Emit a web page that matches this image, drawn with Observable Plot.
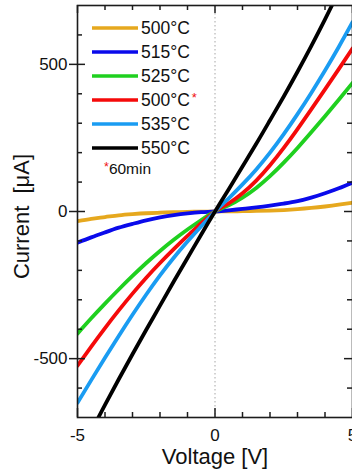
<!DOCTYPE html>
<html><head><meta charset="utf-8">
<script src="https://cdn.jsdelivr.net/npm/d3@7"></script>
<script src="https://cdn.jsdelivr.net/npm/@observablehq/plot@0.6"></script>
<style>html,body{margin:0;padding:0;background:#fff;}</style>
</head><body><div id="chart"></div>
<script>
// ---- data ----
const voltage = [-5,-4.5,-4,-3.5,-3,-2.5,-2,-1.5,-1,-0.5,0,0.5,1,1.5,2,2.5,3,3.5,4,4.5,5];
const i500   = [-33,-25,-19,-13,-9,-6,-4,-2,-1,-0.5,0,0.5,1,2,3,5,8,12,17,23,30];
const i515   = [-106,-88,-71,-55,-42,-30,-20,-12,-6,-2,0,4,9,14,20,27,35,47,62,79,98];
const i525   = [-415,-363,-313,-265,-219,-175,-134,-96,-61,-29,0,21,47,80,120,166,216,269,324,380,437];
const i500b  = [-524,-459,-396,-336,-279,-225,-175,-128,-83,-40,0,28,62,105,157,216,280,347,415,484,554];
const i535   = [-650,-573,-497,-423,-351,-282,-217,-157,-102,-50,0,45,92,143,200,263,331,403,479,559,643];
const i550   = [-845,-748,-657,-570,-485,-402,-320,-238,-158,-78,0,76,153,230,310,391,475,562,653,748,848];
const currents = [i500, i515, i525, i500b, i535, i550];
const legendLabels = ["500°C","515°C","525°C","500°C","535°C","550°C"];
const legendStar   = [false,false,false,true,false,false];
const noteText = "60min";
const colors = ["#E6A81E","#0A0AEB","#1FD01F","#F50A0A","#1A9CF2","#000000"];
const xMajorTicks = [-5,0,5];
const xMinorTicks = [-4,-3,-2,-1,1,2,3,4];
const yMajorTicks = [-500,0,500];
const yMinorTicks = [-600,-400,-300,-200,-100,100,200,300,400,600];
const xLabel = "Voltage [V]";
const yLabel = "Current  [μA]";

// ---- layout ----
const FONT = "'Liberation Sans', Arial, Helvetica, sans-serif";
const W = 352, H = 469, mL = 77, mR = 0, mT = 5, mB = 52;
const fw = W - mL - mR, fh = H - mT - mB;
const axisColor = "#1c1c1c";
const tw = 1.5;

const rows = currents.flatMap((arr, k) => voltage.map((v, j) => ({k, V: v, I: arr[j]})));

const plot = Plot.plot({
  width: W, height: H,
  marginLeft: mL, marginRight: mR, marginTop: mT, marginBottom: mB,
  x: {domain: [-5, 5]},
  y: {domain: [-700, 700]},
  color: {type: "ordinal", domain: d3.range(colors.length), range: colors},
  style: {fontFamily: FONT, background: "#fff", color: "#111"},
  marks: [
    Plot.ruleX([0], {stroke: "#a6a6a6", strokeWidth: 1, strokeDasharray: "1.5,2.5"}),
    Plot.line(rows, {x: "V", y: "I", z: "k", stroke: "k", strokeWidth: 3.8, curve: "natural", clip: true}),
    Plot.frame({stroke: axisColor, strokeWidth: 1.6}),
    // left ticks
    Plot.ruleY(yMinorTicks, {stroke: axisColor, strokeWidth: tw, insetRight: fw - 5}),
    Plot.ruleY(yMajorTicks, {stroke: axisColor, strokeWidth: tw, insetLeft: -8, insetRight: fw - 8}),
    // right ticks
    Plot.ruleY(yMinorTicks, {stroke: axisColor, strokeWidth: tw, insetLeft: fw - 5}),
    Plot.ruleY(yMajorTicks, {stroke: axisColor, strokeWidth: tw, insetLeft: fw - 8}),
    // bottom ticks
    Plot.ruleX(xMinorTicks, {stroke: axisColor, strokeWidth: tw, insetTop: fh - 5}),
    Plot.ruleX(xMajorTicks, {stroke: axisColor, strokeWidth: tw, insetTop: fh - 9}),
    // top ticks
    Plot.ruleX(xMinorTicks, {stroke: axisColor, strokeWidth: tw, insetBottom: fh - 5}),
    Plot.ruleX(xMajorTicks, {stroke: axisColor, strokeWidth: tw, insetBottom: fh - 8}),
    Plot.axisX({ticks: xMajorTicks, tickSize: 0, tickPadding: 11, tickFormat: d => String(d), fontSize: 17, label: null}),
    Plot.axisY({ticks: yMajorTicks, tickSize: 0, tickPadding: 10, tickFormat: d => String(d), fontSize: 17, label: null}),
    Plot.text([xLabel], {frameAnchor: "bottom", textAnchor: "middle", lineAnchor: "middle", dy: 39, fontSize: 22, fill: "#111"}),
    Plot.text([yLabel], {frameAnchor: "left", textAnchor: "middle", lineAnchor: "middle", dx: -56, dy: 5, rotate: -90, fontSize: 22, fill: "#111"})
  ]
});

// ---- legend ----
const svg = d3.select(plot);
const g = svg.append("g").attr("font-family", FONT).attr("text-anchor", "start");
legendLabels.forEach((lab, k) => {
  const y = 28 + 24 * k;
  g.append("line").attr("x1", 92).attr("x2", 138).attr("y1", y).attr("y2", y)
    .attr("stroke", colors[k]).attr("stroke-width", 3.4);
  const t = g.append("text").attr("x", 141).attr("y", y).attr("dy", "0.36em")
    .attr("font-size", 17.5).attr("fill", "#111").text(lab);
  if (legendStar[k]) {
    t.append("tspan").attr("fill", "#F01010").attr("font-size", 13).attr("dx", 2).attr("dy", -4).text("*");
  }
});
const note = g.append("text").attr("x", 104).attr("y", 174).attr("dy", "0.36em").attr("font-size", 15.5).attr("fill", "#111");
note.append("tspan").attr("fill", "#F01010").attr("font-size", 12.5).attr("dy", -3).text("*");
note.append("tspan").attr("dy", 3).text(noteText);

document.getElementById("chart").appendChild(plot);
</script>
</body></html>
